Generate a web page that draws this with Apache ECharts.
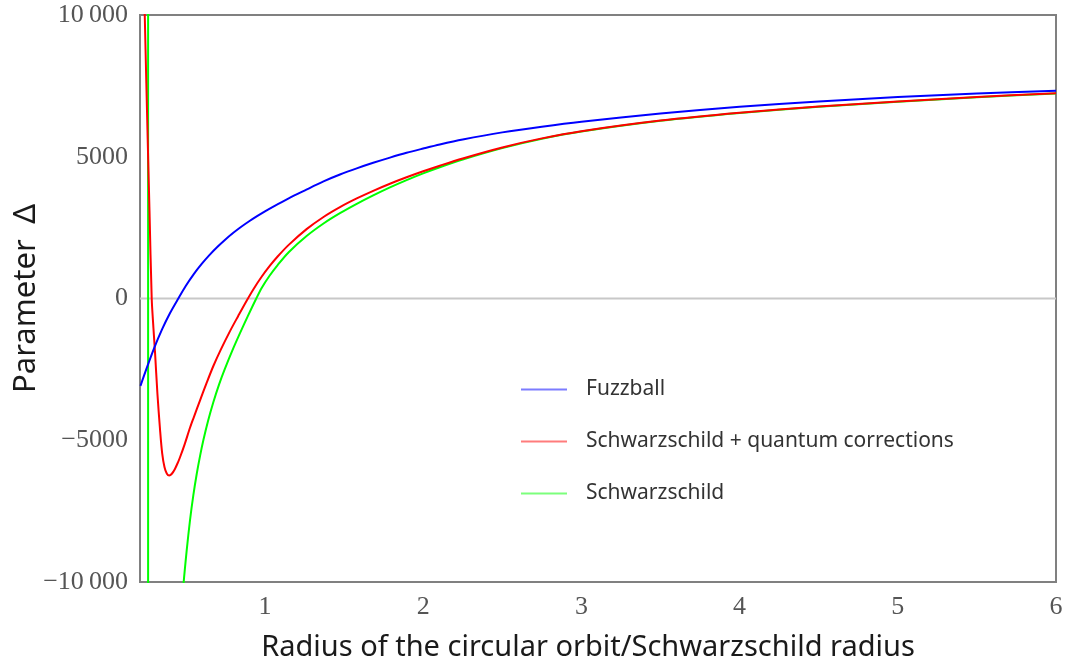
<!DOCTYPE html>
<html>
<head>
<meta charset="utf-8">
<script src="https://cdn.jsdelivr.net/npm/echarts@6/dist/echarts.min.js"></script>
<style>html,body{margin:0;padding:0;background:#fff}#c{width:1066px;height:667px}</style>
</head>
<body>
<div id="c"></div>
<script>
const seriesNames = ['Fuzzball', 'Schwarzschild + quantum corrections', 'Schwarzschild'];
const xTicks = [1, 2, 3, 4, 5, 6];
const yTicks = [-10000, -5000, 0, 5000, 10000];
const yTickLabels = ['\u221210\u2009000', '\u22125000', '0', '5000', '10\u2009000'];
const xTitle = 'Radius of the circular orbit/Schwarzschild radius';
const yTitle = 'Parameter\u2002\u0394';

const fuzzball = [
  [0.213, -3080], [0.25, -2490], [0.30, -1740], [0.35, -1080], [0.40, -510], [0.452, 0],
  [0.50, 451], [0.55, 861], [0.60, 1220], [0.65, 1539], [0.70, 1825], [0.75, 2083],
  [0.80, 2317], [0.85, 2530], [0.90, 2725], [0.95, 2906], [1.0, 3076], [1.05, 3236],
  [1.15, 3534], [1.25, 3808], [1.37, 4130], [1.474, 4372], [1.58, 4590], [1.684, 4786],
  [1.79, 4970], [1.895, 5140], [2.0, 5290], [2.105, 5434], [2.25, 5610], [2.5, 5860],
  [2.75, 6060], [3.0, 6235], [3.5, 6525], [4.0, 6760], [4.5, 6950], [5.0, 7105],
  [5.5, 7230], [6.0, 7330]
];
const quantum = [
  [0.23, 12270], [0.240, 10000], [0.250, 7600], [0.260, 5300], [0.270, 3100], [0.284, 0],
  [0.295, -1050], [0.305, -1900], [0.320, -3350], [0.337, -4650], [0.350, -5450],
  [0.365, -5950], [0.380, -6180], [0.395, -6240], [0.410, -6190], [0.430, -6020],
  [0.450, -5780], [0.463, -5600], [0.490, -5180], [0.526, -4560], [0.55, -4190],
  [0.589, -3600], [0.63, -2995], [0.673, -2390], [0.72, -1810], [0.779, -1150],
  [0.83, -625], [0.885, -70], [0.93, 355], [0.98, 775], [1.03, 1148], [1.08, 1481],
  [1.15, 1892], [1.263, 2447], [1.37, 2876], [1.474, 3223], [1.58, 3529], [1.684, 3798],
  [1.79, 4048], [1.895, 4275], [2.0, 4487], [2.105, 4685], [2.25, 4941], [2.5, 5329],
  [2.75, 5648], [3.0, 5902], [3.5, 6277], [4.0, 6552], [4.5, 6770], [5.0, 6950],
  [5.5, 7105], [6.0, 7243]
];
const schwarzschild = [
  [0.2612, 30000], [0.2614, -30000], [0.40, -24000], [0.45, -12900], [0.484, -10155],
  [0.505, -8895], [0.526, -7824], [0.547, -6942], [0.569, -6172], [0.59, -5542],
  [0.61, -5012], [0.64, -4322], [0.673, -3669], [0.71, -3029], [0.747, -2474],
  [0.80, -1753], [0.842, -1220], [0.89, -640], [0.945, 0], [0.98, 380], [1.03, 810],
  [1.08, 1180], [1.15, 1634], [1.263, 2202], [1.37, 2644], [1.474, 3008], [1.58, 3339],
  [1.684, 3638], [1.79, 3920], [1.895, 4177], [2.0, 4415], [2.105, 4630], [2.25, 4901],
  [2.5, 5304], [2.75, 5631], [3.0, 5889], [3.5, 6267], [4.0, 6543], [4.5, 6762],
  [5.0, 6942], [5.5, 7097], [6.0, 7235]
];
const zeroLine = [[0.21, 0], [6, 0]];

const chart = echarts.init(document.getElementById('c'), null, {renderer: 'canvas'});
const serif = 'Liberation Serif';
const sans = 'Noto Sans';
function mk(name, data, color, z, smooth) {
  return {
    name: name, type: 'line', data: data, showSymbol: false, clip: true,
    smooth: smooth, z: z,
    lineStyle: {color: color, width: 2}, itemStyle: {color: color}
  };
}
chart.setOption({
  animation: false,
  backgroundColor: '#fff',
  grid: {left: 140, right: 10, top: 15, bottom: 85, show: true, borderColor: '#808080', borderWidth: 2,
    backgroundColor: 'transparent', containLabel: false, outerBoundsMode: 'none'},
  legend: {
    orient: 'vertical', left: 516, top: 374, icon: 'rect', itemWidth: 46, itemHeight: 2, itemGap: 31,
    textStyle: {fontFamily: sans, fontSize: 21, color: '#333', padding: [0, 0, 0, 14]},
    data: [
      {name: seriesNames[0], itemStyle: {color: '#7c7cff'}},
      {name: seriesNames[1], itemStyle: {color: '#ff7c7c'}},
      {name: seriesNames[2], itemStyle: {color: '#7cff7c'}}
    ]
  },
  xAxis: {
    type: 'value', min: 0.21, max: 6,
    axisLine: {show: false}, axisTick: {show: false}, splitLine: {show: false},
    axisLabel: {customValues: xTicks, fontFamily: serif, fontSize: 26, color: '#555', margin: 12,
      formatter: v => String(v)},
    name: xTitle, nameLocation: 'middle', nameGap: 51, nameMoveOverlap: false,
    nameTextStyle: {fontFamily: sans, fontSize: 29, color: '#1a1a1a', padding: [0, 20, 0, 0]}
  },
  yAxis: {
    type: 'value', min: -10000, max: 10000, interval: 5000,
    axisLine: {show: false}, axisTick: {show: false}, splitLine: {show: false},
    axisLabel: {fontFamily: serif, fontSize: 26, color: '#555', margin: 12,
      formatter: v => { const i = yTicks.indexOf(v); return i >= 0 ? yTickLabels[i] : ''; }},
    name: yTitle, nameLocation: 'middle', nameGap: 98, nameRotate: 90, nameMoveOverlap: false,
    nameTextStyle: {fontFamily: sans, fontSize: 31, color: '#1a1a1a'}
  },
  series: [
    {name: 'zero', type: 'line', data: zeroLine, showSymbol: false, silent: true, z: 1,
      lineStyle: {color: '#c8c8c8', width: 2}},
    mk(seriesNames[2], schwarzschild, '#00ff00', 2, 0.3),
    mk(seriesNames[1], quantum, '#ff0000', 3, 0.3),
    mk(seriesNames[0], fuzzball, '#0000ff', 4, 0.3)
  ]
});
</script>
</body>
</html>
